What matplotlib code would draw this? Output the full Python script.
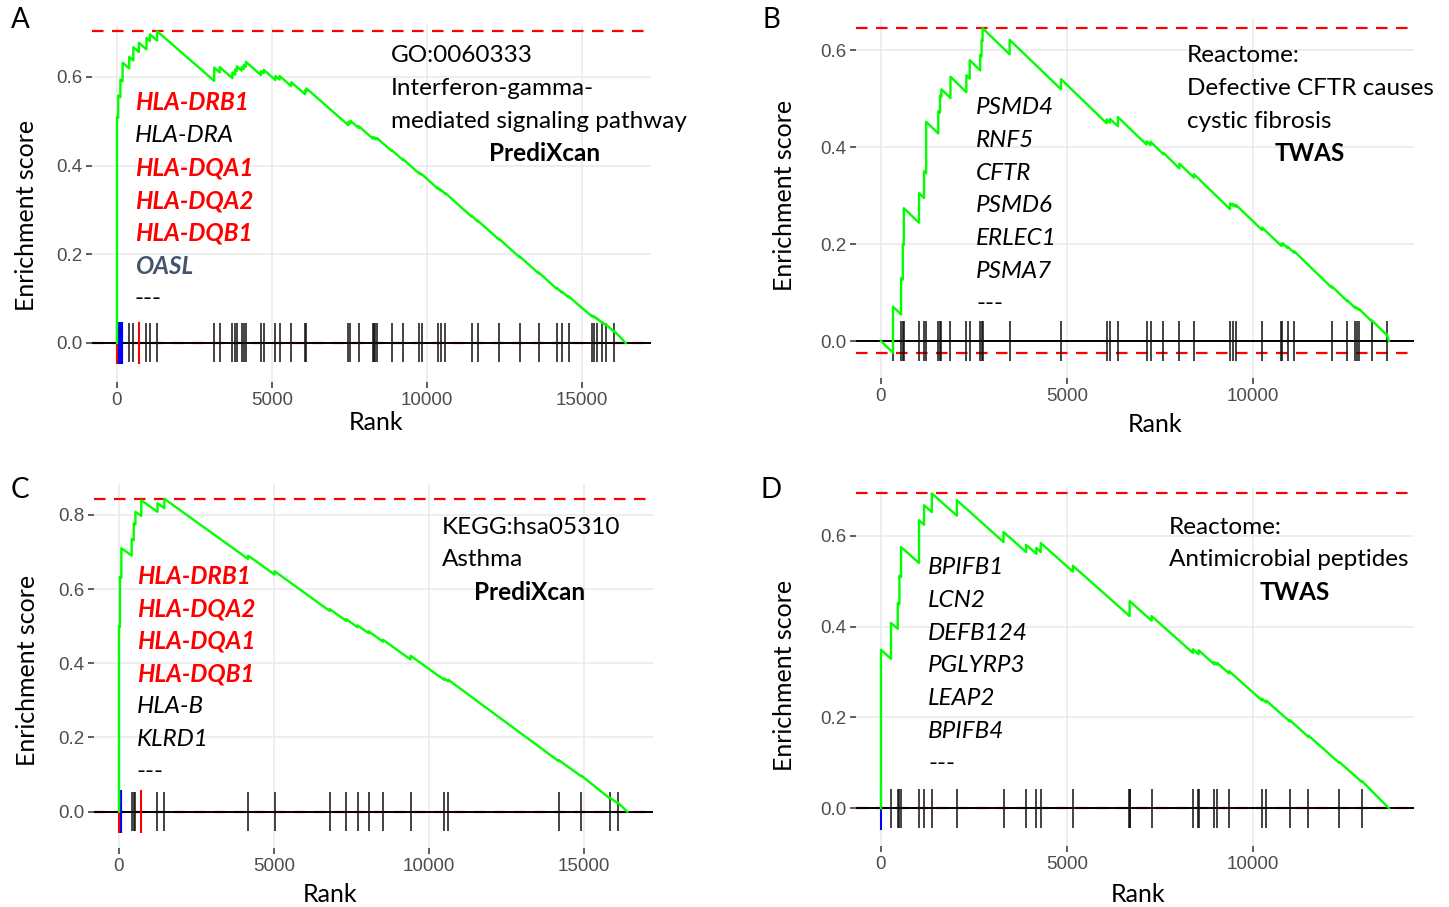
import matplotlib
matplotlib.use("Agg")
import matplotlib.pyplot as plt

W, H = 1449, 907

# ---------------- data ----------------
# A: GO:0060333, PrediXcan
a_step_rank = [0, 40, 110, 180, 395, 528, 706, 950, 1061, 1294, 3136, 3313, 3724, 3813, 3868,
               4024, 4090, 4157, 4645, 4734, 5111, 5244, 5621, 6065, 6110, 7464, 7530, 7797,
               8251, 8296, 8329, 8385, 8862, 9217, 9750, 9827, 10349, 10438, 10593, 11436,
               11636, 12324, 12990, 13600, 14189, 14344, 14566, 15321, 15387, 15498, 15653,
               15764, 16041]
a_es_before = [0.0, 0.508, 0.554, 0.590, 0.619, 0.637, 0.656, 0.662, 0.681, 0.682, 0.591, 0.610,
               0.597, 0.605, 0.614, 0.614, 0.618, 0.623, 0.604, 0.608, 0.593, 0.594, 0.579,
               0.561, 0.567, 0.491, 0.495, 0.485, 0.461, 0.461, 0.461, 0.460, 0.433, 0.413,
               0.382, 0.379, 0.348, 0.344, 0.336, 0.285, 0.274, 0.233, 0.193, 0.157, 0.122,
               0.114, 0.103, 0.060, 0.058, 0.053, 0.045, 0.040, 0.025]
a_es_after = [0.510, 0.558, 0.594, 0.632, 0.645, 0.667, 0.677, 0.688, 0.696, 0.703, 0.621, 0.622,
              0.610, 0.617, 0.624, 0.622, 0.627, 0.634, 0.613, 0.616, 0.602, 0.602, 0.588,
              0.570, 0.574, 0.499, 0.501, 0.489, 0.464, 0.463, 0.463, 0.462, 0.435, 0.415,
              0.384, 0.381, 0.350, 0.346, 0.338, 0.287, 0.276, 0.235, 0.195, 0.159, 0.124,
              0.116, 0.105, 0.062, 0.060, 0.055, 0.047, 0.042, 0.027]
a_n_genes = 16408
a_ticks_black = [395, 528, 950, 1061, 1294, 3136, 3313, 3724, 3813, 3868, 4024, 4090, 4157, 4645,
                 4734, 5111, 5244, 5621, 6065, 6110, 7464, 7530, 7797, 8251, 8296, 8329, 8385,
                 8862, 9217, 9750, 9827, 10349, 10438, 10593, 11436, 11636, 12324, 12990, 13600,
                 14189, 14344, 14566, 15321, 15387, 15498, 15653, 15764, 16041]
a_ticks_blue = [25, 50, 75, 100, 125, 150, 175]
a_ticks_red = [0, 706]
a_genes = ["HLA-DRB1", "HLA-DRA", "HLA-DQA1", "HLA-DQA2", "HLA-DQB1", "OASL", "---"]
a_genes_red = ["HLA-DRB1", "HLA-DQA1", "HLA-DQA2", "HLA-DQB1"]
a_genes_blue = ["OASL"]
a_title = ["GO:0060333", "Interferon-gamma-", "mediated signaling pathway"]
a_method = "PrediXcan"

# B: Reactome Defective CFTR causes cystic fibrosis, TWAS
b_step_rank = [322, 540, 586, 613, 1022, 1158, 1213, 1540, 1586, 1622, 1867, 2294, 2385, 2667,
               2703, 2730, 3458, 4839, 6066, 6157, 6366, 7138, 7247, 7593, 8020, 8411, 9383,
               9456, 9538, 10246, 10765, 10792, 10928, 11110, 12119, 12537, 12736, 12791,
               12855, 13191, 13591]
b_es_before = [-0.024, 0.055, 0.127, 0.198, 0.244, 0.295, 0.346, 0.428, 0.471, 0.503, 0.501,
               0.513, 0.541, 0.558, 0.587, 0.618, 0.591, 0.519, 0.449, 0.450, 0.443, 0.405,
               0.404, 0.385, 0.356, 0.337, 0.272, 0.279, 0.277, 0.229, 0.196, 0.198, 0.192,
               0.182, 0.110, 0.082, 0.069, 0.067, 0.064, 0.041, 0.013]
b_es_after = [0.071, 0.130, 0.200, 0.274, 0.305, 0.350, 0.452, 0.474, 0.506, 0.519, 0.545,
              0.548, 0.579, 0.590, 0.620, 0.645, 0.621, 0.540, 0.457, 0.458, 0.462, 0.412,
              0.411, 0.388, 0.366, 0.344, 0.284, 0.283, 0.281, 0.234, 0.200, 0.202, 0.195,
              0.185, 0.113, 0.084, 0.071, 0.069, 0.066, 0.043, 0.015]
b_n_genes = 13655
b_genes = ["PSMD4", "RNF5", "CFTR", "PSMD6", "ERLEC1", "PSMA7", "---"]
b_title = ["Reactome:", "Defective CFTR causes", "cystic fibrosis"]
b_method = "TWAS"

# C: KEGG hsa05310 Asthma, PrediXcan
c_step_rank = [0, 31, 76, 409, 476, 531, 720, 1242, 1464, 4163, 5019, 6796, 7329, 7696, 8051,
               8518, 9406, 10495, 10628, 14183, 14916, 15827, 16083]
c_es_before = [0.0, 0.498, 0.630, 0.690, 0.731, 0.774, 0.797, 0.808, 0.818, 0.681, 0.639,
               0.541, 0.514, 0.497, 0.481, 0.458, 0.410, 0.355, 0.351, 0.136, 0.095, 0.036,
               0.023]
c_es_after = [0.500, 0.633, 0.710, 0.735, 0.777, 0.808, 0.839, 0.831, 0.843, 0.690, 0.648,
              0.546, 0.519, 0.502, 0.486, 0.463, 0.420, 0.359, 0.355, 0.139, 0.097, 0.038,
              0.025]
c_n_genes = 16400
c_ticks_black = [409, 476, 531, 1242, 1464, 4163, 5019, 6796, 7329, 7696, 8051, 8518, 9406,
                 10495, 10628, 14183, 14916, 15827, 16083]
c_ticks_blue = [30, 55, 80]
c_ticks_red = [0, 720]
c_genes = ["HLA-DRB1", "HLA-DQA2", "HLA-DQA1", "HLA-DQB1", "HLA-B", "KLRD1", "---"]
c_genes_red = ["HLA-DRB1", "HLA-DQA2", "HLA-DQA1", "HLA-DQB1"]
c_title = ["KEGG:hsa05310", "Asthma"]
c_method = "PrediXcan"

# D: Reactome Antimicrobial peptides, TWAS
d_step_rank = [0, 268, 450, 495, 540, 1022, 1158, 1367, 2040, 3294, 3903, 4176, 4294, 5157,
               6684, 7275, 8384, 8538, 8956, 9038, 9356, 10246, 10355, 10991, 11491, 12318,
               12927]
d_es_before = [0.0, 0.329, 0.395, 0.449, 0.509, 0.540, 0.624, 0.652, 0.644, 0.586, 0.564,
               0.560, 0.564, 0.521, 0.423, 0.413, 0.342, 0.339, 0.317, 0.316, 0.297, 0.237,
               0.233, 0.191, 0.157, 0.100, 0.058]
d_es_after = [0.349, 0.408, 0.452, 0.512, 0.575, 0.634, 0.667, 0.693, 0.678, 0.608, 0.580,
              0.573, 0.584, 0.534, 0.456, 0.423, 0.350, 0.348, 0.322, 0.320, 0.302, 0.241,
              0.237, 0.194, 0.160, 0.102, 0.060]
d_n_genes = 13655
d_ticks_extra = [6670, 6697, 8528]
d_ticks_blue = [0]
d_genes = ["BPIFB1", "LCN2", "DEFB124", "PGLYRP3", "LEAP2", "BPIFB4", "---"]
d_title = ["Reactome:", "Antimicrobial peptides"]
d_method = "TWAS"

# ---------------- drawing ----------------
TXT = "Lato"
NUM = "Liberation Sans"


def fx(x):
    return x / W


def fy(y):
    return 1 - y / H


def curve_xy(ranks, before, after, n_genes):
    xs, ys = [0], [0.0]
    for r, b, a in zip(ranks, before, after):
        xs += [r, r]
        ys += [b, a]
    xs.append(n_genes)
    ys.append(0.0)
    return xs, ys


def panel(box, xlim, ylim, xticks, yticks, ranks, before, after, n_genes,
          black, blue=(), red=()):
    l, t, r, b = box
    ax = fig.add_axes([fx(l), fy(b), (r - l) / W, (b - t) / H])
    xs, ys = curve_xy(ranks, before, after, n_genes)
    top, bot = max(ys), min(ys)
    half = (top - bot) / 16
    ax.set_xlim(*xlim)
    ax.set_ylim(*ylim)
    ax.set_xticks(xticks)
    ax.set_yticks(yticks)
    ax.set_xticklabels([str(v) for v in xticks])
    ax.set_yticklabels([f"{v:.1f}" for v in yticks])
    ax.grid(True, color="#EBEBEB", lw=1.2, zorder=0)
    ax.set_axisbelow(True)
    for s in ax.spines.values():
        s.set_visible(False)
    ax.tick_params(length=4, width=1.1, color="#333333", labelcolor="#4D4D4D",
                   labelsize=13.5, pad=3)
    for lab in ax.get_xticklabels() + ax.get_yticklabels():
        lab.set_fontfamily(NUM)
    dash = (0, (5.2, 3.8))
    ax.axhline(top, color="red", lw=1.6, ls=dash, zorder=2)
    ax.axhline(bot, color="red", lw=1.6, ls=dash, zorder=2)
    ax.axhline(0, color="black", lw=1.4, zorder=3)
    ax.vlines(black, -half, half, color="#111111", lw=1.1, zorder=4)
    if len(blue):
        ax.vlines(blue, -half * 1.1, half * 1.1, color="blue", lw=1.5, zorder=5)
    if len(red):
        ax.vlines(red, -half * 1.1, half * 1.1, color="red", lw=1.5, zorder=6)
    ax.plot(xs, ys, color="#00FF00", lw=1.7, zorder=7, solid_joinstyle="round")
    return ax


def gene_list(x, y0, genes, red=(), blue=()):
    for i, g in enumerate(genes):
        style = "normal" if g == "---" else "italic"
        weight, col = "normal", "black"
        if g in red:
            weight, col = "bold", "red"
        elif g in blue:
            weight, col = "bold", "#44546A"
        fig.text(fx(x), fy(y0 + i * 32.6), g, fontsize=17.5, family=TXT,
                 style=style, weight=weight, color=col, va="center", ha="left")


def title_block(x, y0, lines, method, mx):
    for i, s in enumerate(lines):
        fig.text(fx(x), fy(y0 + i * 32.6), s, fontsize=17.5, family=TXT,
                 va="center", ha="left")
    fig.text(fx(mx), fy(y0 + 3 * 32.6) if len(lines) == 3 else fy(y0 + 2 * 32.6),
             method, fontsize=17.5, family=TXT, weight="bold", va="center", ha="center")


fig = plt.figure(figsize=(W / 100, H / 100), dpi=100)

panel((92, 25, 651, 382), (-806, 17226), (-0.088, 0.717), [0, 5000, 10000, 15000],
      [0.0, 0.2, 0.4, 0.6], a_step_rank, a_es_before, a_es_after, a_n_genes,
      a_ticks_black, a_ticks_blue, a_ticks_red)
panel((856, 18, 1414, 378), (-672, 14328), (-0.076, 0.666), [0, 5000, 10000],
      [0.0, 0.2, 0.4, 0.6], b_step_rank, b_es_before, b_es_after, b_n_genes,
      b_step_rank)
panel((94, 484, 653, 848), (-806, 17226), (-0.098, 0.883), [0, 5000, 10000, 15000],
      [0.0, 0.2, 0.4, 0.6, 0.8], c_step_rank, c_es_before, c_es_after, c_n_genes,
      c_ticks_black, c_ticks_blue, c_ticks_red)
panel((856, 488, 1414, 846), (-672, 14328), (-0.083, 0.705), [0, 5000, 10000],
      [0.0, 0.2, 0.4, 0.6], d_step_rank, d_es_before, d_es_after, d_n_genes,
      d_step_rank[1:] + d_ticks_extra, d_ticks_blue)

# panel letters
for letter, x, y in [("A", 20, 20), ("B", 771, 20), ("C", 20, 490), ("D", 771, 490)]:
    fig.text(fx(x), fy(y), letter, fontsize=20, family=TXT, va="center", ha="center")

# axis titles
for x, y in [(27, 215), (785, 195), (28, 670), (785, 675)]:
    fig.text(fx(x), fy(y), "Enrichment score", fontsize=18, family=TXT, rotation=90,
             va="center", ha="center")
for x, y in [(376, 422), (1155, 425), (330, 895), (1138, 895)]:
    fig.text(fx(x), fy(y), "Rank", fontsize=18, family=TXT, va="center", ha="center")

gene_list(135, 103, a_genes, a_genes_red, a_genes_blue)
gene_list(976, 108, b_genes)
gene_list(137, 576, c_genes, c_genes_red)
gene_list(928, 568, d_genes)

title_block(391, 56, a_title, a_method, 545)
title_block(1187, 56, b_title, b_method, 1310)
title_block(442, 527, c_title, c_method, 530)
title_block(1169, 527, d_title, d_method, 1295)

fig.savefig("out.png", dpi=100)
